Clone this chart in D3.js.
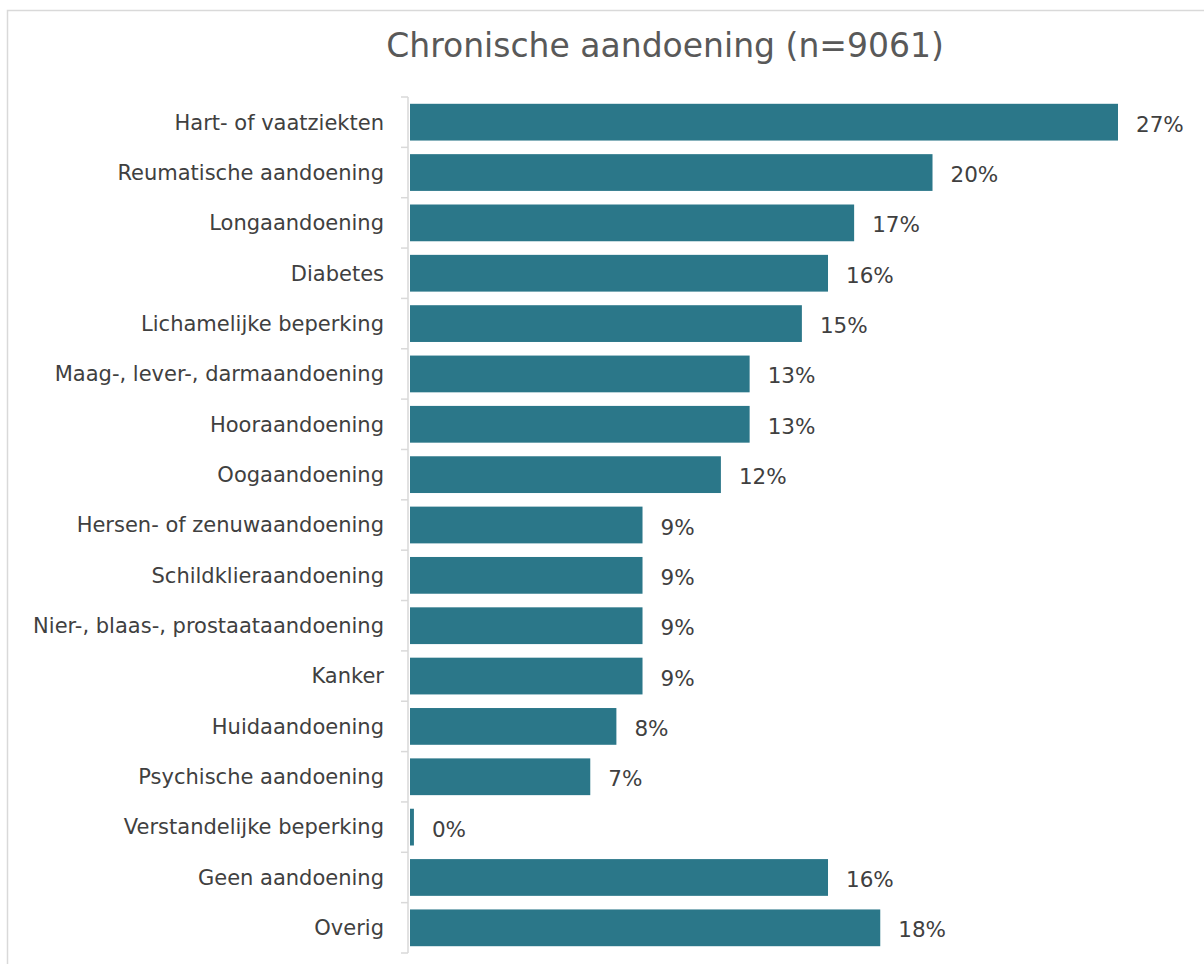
<!DOCTYPE html>
<html>
<head>
<meta charset="utf-8">
<script src="https://cdn.jsdelivr.net/npm/d3@7"></script>
<style>
  body { margin: 0; background: #fff; }
  text { font-family: "DejaVu Sans", Verdana, sans-serif; }
</style>
</head>
<body>
<div id="chart"></div>
<script>
(function(d3) {
  'use strict';

  var categories = ['Hart- of vaatziekten', 'Reumatische aandoening', 'Longaandoening', 'Diabetes',
    'Lichamelijke beperking', 'Maag-, lever-, darmaandoening', 'Hooraandoening', 'Oogaandoening',
    'Hersen- of zenuwaandoening', 'Schildklieraandoening', 'Nier-, blaas-, prostaataandoening',
    'Kanker', 'Huidaandoening', 'Psychische aandoening', 'Verstandelijke beperking',
    'Geen aandoening', 'Overig'];
  var values = [27.1, 20.0, 17.0, 16.0, 15.0, 13.0, 13.0, 11.9, 8.9, 8.9, 8.9, 8.9, 7.9, 6.9, 0.15, 16.0, 18.0];
  var title = 'Chronische aandoening (n=9061)';

  var width = 1204;
  var height = 964;
  var left = 408, top = 97, bottom = 953;
  var barColor = '#2b7789';
  var textColor = '#595959';

  var svg = d3.select('#chart')
    .append('svg')
    .attr('width', width)
    .attr('height', height);

  // frame around the chart area
  svg.append('rect')
    .attr('x', 7.5).attr('y', 10.5)
    .attr('width', 1210).attr('height', 970)
    .attr('fill', 'none')
    .attr('stroke', '#d9d9d9')
    .attr('stroke-width', 1.5);

  svg.append('text')
    .attr('x', 665)
    .attr('y', 57)
    .attr('text-anchor', 'middle')
    .style('font-size', '33px')
    .style('fill', textColor)
    .text(title);

  var x = d3.scaleLinear()
    .domain([0, 27.1])
    .range([left + 2, 1118]);

  var y = d3.scaleBand()
    .domain(categories)
    .range([top, bottom])
    .paddingInner(0.27)
    .paddingOuter(0.135);

  var yAxis = d3.axisLeft(y).tickSize(0).tickPadding(24);

  var gy = svg.append('g')
    .attr('transform', 'translate(' + left + ',0)')
    .call(yAxis);
  gy.select('.domain').remove();
  gy.selectAll('text')
    .style('font-size', '21px')
    .style('fill', '#404040')
    .attr('dy', '0.35em');

  // axis line and the ticks between categories
  var bounds = d3.range(categories.length + 1).map(function(i) { return top + i * (bottom - top) / categories.length; });
  svg.append('line')
    .attr('x1', left).attr('x2', left)
    .attr('y1', top).attr('y2', bottom)
    .attr('stroke', '#d9d9d9').attr('stroke-width', 1.5);
  svg.selectAll('.sep')
    .data(bounds)
    .enter()
    .append('line')
    .attr('class', 'sep')
    .attr('x1', left - 7).attr('x2', left)
    .attr('y1', function(d) { return d; })
    .attr('y2', function(d) { return d; })
    .attr('stroke', '#d9d9d9').attr('stroke-width', 1.5);

  svg.selectAll('.bar')
    .data(values)
    .enter()
    .append('rect')
    .attr('class', 'bar')
    .attr('x', x(0))
    .attr('y', function(d, i) { return y(categories[i]); })
    .attr('width', function(d) { return x(d) - x(0); })
    .attr('height', y.bandwidth())
    .attr('fill', barColor);

  svg.selectAll('.val')
    .data(values)
    .enter()
    .append('text')
    .attr('class', 'val')
    .attr('x', function(d) { return x(d) + 18; })
    .attr('y', function(d, i) { return y(categories[i]) + y.bandwidth() / 2 + 2; })
    .attr('dy', '0.35em')
    .style('font-size', '21.5px')
    .style('fill', '#404040')
    .text(function(d) { return Math.round(d) + '%'; });

})(window.d3);
</script>
</body>
</html>
